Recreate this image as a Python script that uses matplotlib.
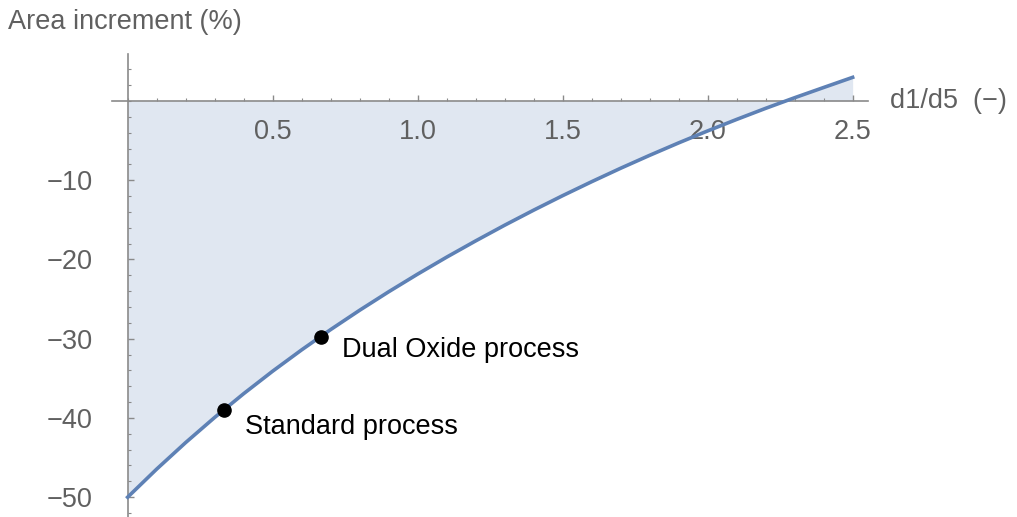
import numpy as np
import matplotlib.pyplot as plt
from matplotlib.ticker import MultipleLocator, FixedLocator

plt.rcParams['font.family'] = ['Liberation Sans', 'DejaVu Sans']

# area increment vs. thickness ratio
ratio = [0.0, 0.1, 0.2, 0.3, 0.4, 0.5, 0.6, 0.7, 0.8, 0.9, 1.0, 1.1, 1.2,
         1.3, 1.4, 1.5, 1.6, 1.7, 1.8, 1.9, 2.0, 2.1, 2.2, 2.3, 2.4, 2.5]
increment = [-50.0, -46.46, -43.11, -39.94, -36.94, -34.10, -31.41, -28.85,
             -26.41, -24.08, -21.85, -19.71, -17.66, -15.68, -13.78, -11.95,
             -10.19, -8.49, -6.86, -5.29, -3.78, -2.33, -0.93, 0.41, 1.70,
             2.98]

# process operating points
proc_names = ['Standard process', 'Dual Oxide process']
proc_ratio = [1/3, 2/3]
proc_incr = [-39.0, -29.75]
label_offsets = [(15, -12), (15, -9.5)]

line_col = '#5e81b5'
axis_col = '#8a8a8a'
text_col = '#606060'

fig = plt.figure(figsize=(10.17, 5.17), dpi=100)
ax = fig.add_axes([0.1101, 0.0, 0.7434, 0.8956])
ax.set_xlim(-0.054, 2.553)
ax.set_ylim(-52.5, 5.93)

ax.fill_between(ratio, increment, 0, color=line_col, alpha=0.19, lw=0)
ax.plot(ratio, increment, color=line_col, lw=2.6, zorder=3,
        solid_joinstyle='round')
ax.scatter(proc_ratio, proc_incr, s=90, color='black', zorder=4)
for name, xp, yp, off in zip(proc_names, proc_ratio, proc_incr, label_offsets):
    ax.annotate(name, (xp, yp), xytext=off, textcoords='offset points',
                fontsize=19.5, color='black', va='center', ha='left')

# axes crossing at the origin
for side in ['top', 'right']:
    ax.spines[side].set_visible(False)
ax.spines['left'].set_position(('data', 0))
ax.spines['bottom'].set_position(('data', 0))
for side in ['left', 'bottom']:
    ax.spines[side].set_color(axis_col)
    ax.spines[side].set_linewidth(1.2)

ax.xaxis.set_major_locator(FixedLocator([0.5, 1.0, 1.5, 2.0, 2.5]))
ax.xaxis.set_minor_locator(MultipleLocator(0.1))
ax.yaxis.set_major_locator(FixedLocator([-10, -20, -30, -40, -50]))
ax.yaxis.set_minor_locator(MultipleLocator(2))
ax.set_xticklabels(['0.5', '1.0', '1.5', '2.0', '2.5'])
ax.set_yticklabels(['\u221210', '\u221220', '\u221230', '\u221240', '\u221250'])

ax.tick_params(which='both', direction='in', color=axis_col, labelcolor=text_col,
               labelsize=19.5)
ax.tick_params(which='major', length=4.5, width=1)
ax.tick_params(which='minor', length=2.5, width=0.8)
ax.tick_params(axis='x', pad=13)
ax.tick_params(axis='y', pad=25)

fig.text(890 / 1017, 1 - 101 / 517, 'd1/d5  (\u2212)', fontsize=19.5, color=text_col,
         va='center', ha='left')
fig.text(8 / 1017, 1 - 22 / 517, 'Area increment (%)', fontsize=19.5, color=text_col,
         va='center', ha='left')

fig.savefig('out.png', dpi=100)
